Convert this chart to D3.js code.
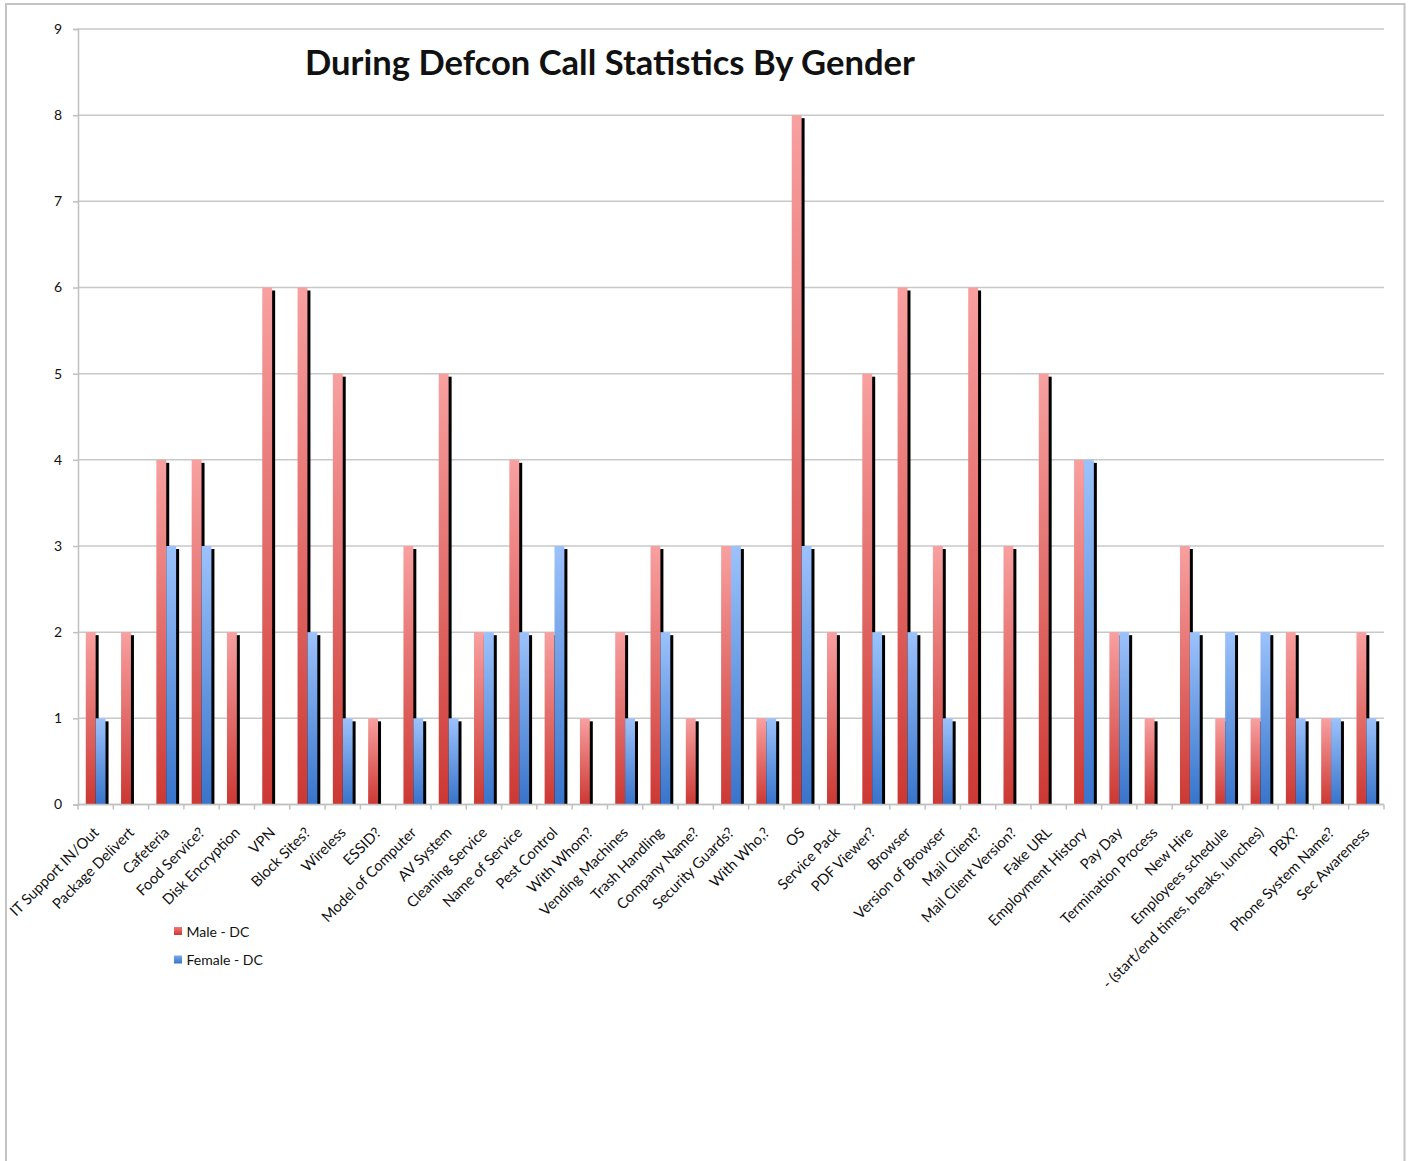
<!DOCTYPE html>
<html>
<head>
<meta charset="utf-8">
<script src="https://cdn.jsdelivr.net/npm/d3@7"></script>
<style>
  html, body { margin: 0; padding: 0; background: #fff; }
  svg { display: block; }
  text { font-family: Lato, "Open Sans", sans-serif; fill: #111; }
</style>
</head>
<body>
<svg id="chart" width="1410" height="1161"></svg>
<script>
const categories = [
  "IT Support IN/Out", "Package Delivert", "Cafeteria", "Food Service?", "Disk Encryption",
  "VPN", "Block Sites?", "Wireless", "ESSID?", "Model of Computer", "AV System",
  "Cleaning Service", "Name of Service", "Pest Control", "With Whom?", "Vending Machines",
  "Trash Handling", "Company Name?", "Security Guards?", "With Who,?", "OS", "Service Pack",
  "PDF Viewer?", "Browser", "Version of Browser", "Mail Client?", "Mail Client Version?",
  "Fake URL", "Employment History", "Pay Day", "Termination Process", "New Hire",
  "Employees schedule", "- (start/end times, breaks, lunches)", "PBX?", "Phone System Name?",
  "Sec Awareness"
];
const maleDC = [2, 2, 4, 4, 2, 6, 6, 5, 1, 3, 5, 2, 4, 2, 1, 2, 3, 1, 3, 1, 8, 2, 5, 6, 3, 6, 3, 5, 4, 2, 1, 3, 1, 1, 2, 1, 2];
const femaleDC = [1, 0, 3, 3, 0, 0, 2, 1, 0, 1, 1, 2, 2, 3, 0, 1, 2, 0, 3, 1, 3, 0, 2, 2, 1, 0, 0, 0, 4, 2, 0, 2, 2, 2, 1, 1, 1];
const seriesNames = ["Male - DC", "Female - DC"];
const yTicks = [0, 1, 2, 3, 4, 5, 6, 7, 8, 9];
const title = "During Defcon Call Statistics By Gender";

const svg = d3.select("#chart");
const plotLeft = 78, plotRight = 1384, plotTop = 29, plotBottom = 804.5;

// outer frame
svg.append("rect")
  .attr("x", 6).attr("y", 4).attr("width", 1398.5).attr("height", 1180)
  .attr("fill", "none").attr("stroke", "#c4c4c4").attr("stroke-width", 2);

const x = d3.scaleBand().domain(categories).range([plotLeft, plotRight]).padding(0);
const y = d3.scaleLinear().domain([0, 9]).range([plotBottom, plotTop]);
const bw = x.bandwidth();
const barW = bw * 0.28;

// vertical gradients for the bars and legend swatches
const defs = svg.append("defs");
function grad(id, c0, c1) {
  const g = defs.append("linearGradient").attr("id", id)
    .attr("x1", 0).attr("y1", 0).attr("x2", 0).attr("y2", 1);
  g.append("stop").attr("offset", "0%").attr("stop-color", c0);
  g.append("stop").attr("offset", "100%").attr("stop-color", c1);
}
grad("gMale", "#f8a0a0", "#cc3833");
grad("gFemale", "#9cc2fb", "#3874cb");
grad("lMale", "#f07878", "#cc3833");
grad("lFemale", "#7aa8ee", "#3874cb");

// gridlines
svg.append("g")
  .selectAll("line").data(yTicks).join("line")
  .attr("x1", plotLeft).attr("x2", plotRight)
  .attr("y1", d => y(d)).attr("y2", d => y(d))
  .attr("stroke", "#c8c8c8").attr("stroke-width", 1.5);

// y axis
const yAxis = svg.append("g").attr("transform", `translate(${plotLeft},0)`)
  .call(d3.axisLeft(y).tickValues(yTicks).tickFormat(d3.format("d")).tickSize(5).tickPadding(11));
yAxis.select(".domain").attr("stroke", "#c0c0c0").attr("stroke-width", 1.5);
yAxis.selectAll(".tick line").attr("stroke", "#c0c0c0").attr("stroke-width", 1.5);
yAxis.selectAll(".tick text").style("font-family", "Lato, sans-serif").style("font-size", "14px").attr("fill", "#111");

// bars with a dark drop shadow offset to the lower right
const series = [
  { name: seriesNames[0], values: maleDC, fill: "url(#gMale)", off: -barW },
  { name: seriesNames[1], values: femaleDC, fill: "url(#gFemale)", off: 0 }
];
const barsG = svg.append("g");
series.forEach(s => {
  const data = categories.map((c, i) => ({ c, v: s.values[i] })).filter(d => d.v > 0);
  const g = barsG.append("g");
  g.selectAll("rect.shadow").data(data).join("rect").attr("class", "shadow")
    .attr("x", d => x(d.c) + bw / 2 + s.off + 3)
    .attr("y", d => y(d.v) + 3)
    .attr("width", barW)
    .attr("height", d => plotBottom - y(d.v) - 3)
    .attr("fill", "#000");
  g.selectAll("rect.bar").data(data).join("rect").attr("class", "bar")
    .attr("x", d => x(d.c) + bw / 2 + s.off)
    .attr("y", d => y(d.v))
    .attr("width", barW)
    .attr("height", d => plotBottom - y(d.v))
    .attr("fill", s.fill);
});

// x axis
const xAxisG = svg.append("g");
xAxisG.append("line").attr("x1", plotLeft).attr("x2", plotRight).attr("y1", plotBottom).attr("y2", plotBottom)
  .attr("stroke", "#c0c0c0").attr("stroke-width", 1.5);
const bounds = categories.map(c => x(c)).concat([plotRight]);
xAxisG.selectAll("line.tk").data(bounds).join("line").attr("class", "tk")
  .attr("x1", d => d).attr("x2", d => d).attr("y1", plotBottom).attr("y2", plotBottom + 5)
  .attr("stroke", "#c0c0c0").attr("stroke-width", 1.5);
xAxisG.selectAll("text").data(categories).join("text")
  .attr("transform", d => `translate(${x(d) + bw / 2 + 4},${plotBottom + 29}) rotate(-45)`)
  .attr("text-anchor", "end")
  .style("font-size", "14.7px")
  .text(d => d);

// title
const t = svg.append("text")
  .attr("x", 610).attr("y", 75)
  .attr("text-anchor", "middle")
  .style("font-weight", "bold")
  .style("font-size", "32px")
  .text(title);
const tw = t.node().getComputedTextLength();
t.style("font-size", (32 * 610 / tw).toFixed(2) + "px");

// legend
const legend = svg.append("g");
const legendColors = ["url(#lMale)", "url(#lFemale)"];
seriesNames.forEach((n, i) => {
  const ly = 927 + i * 28.5;
  legend.append("rect").attr("x", 174).attr("y", ly).attr("width", 8).attr("height", 8)
    .attr("fill", legendColors[i]);
  legend.append("text").attr("x", 186.5).attr("y", ly + 9.5)
    .style("font-size", "14px").text(n);
});
</script>
</body>
</html>
